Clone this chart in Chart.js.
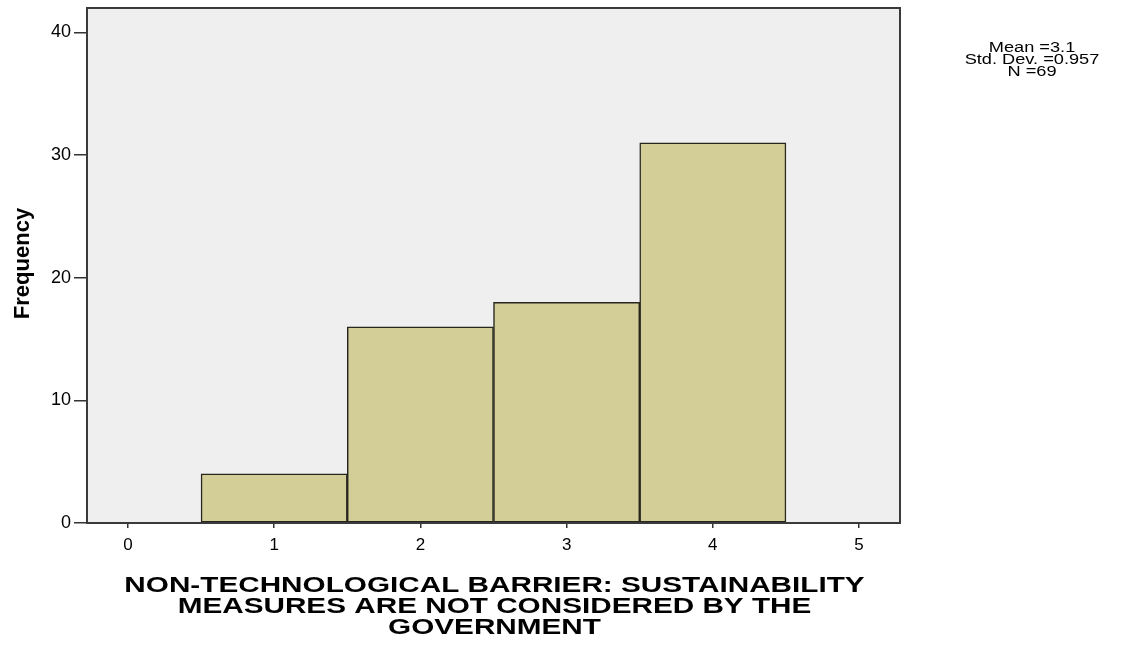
<!DOCTYPE html>
<html>
<head>
<meta charset="utf-8">
<script src="https://cdn.jsdelivr.net/npm/chart.js@4/dist/chart.umd.min.js"></script>
<style>
  html, body { margin: 0; padding: 0; background: #ffffff; }
  #wrap { width: 1130px; height: 647px; }
</style>
</head>
<body>
<div id="wrap"><canvas id="hist" width="1130" height="647"></canvas></div>
<script>
// Histogram bins (bin centres) and their counts
const binCentres = [1, 2, 3, 4];
const frequencies = [4, 16, 18, 31];
const xTickValues = [0, 1, 2, 3, 4, 5];
const yTickValues = [0, 10, 20, 30, 40];
const xTitleLines = [
  'NON-TECHNOLOGICAL BARRIER: SUSTAINABILITY',
  'MEASURES ARE NOT CONSIDERED BY THE',
  'GOVERNMENT'
];
const yTitle = 'Frequency';
const statsLines = ['Mean =3.1', 'Std. Dev. =0.957', 'N =69'];

const FONT = '"Liberation Sans", Arial, sans-serif';

// Grey plot background plus a dark frame around the plotting area
const frame = {
  id: 'frame',
  beforeDatasetsDraw(chart) {
    const { ctx, chartArea: a } = chart;
    ctx.save();
    ctx.fillStyle = '#efefef';
    ctx.fillRect(a.left, a.top, a.right - a.left, a.bottom - a.top);
    ctx.restore();
  },
  afterDatasetsDraw(chart) {
    const { ctx, chartArea: a } = chart;
    ctx.save();
    ctx.strokeStyle = '#3a3a3a';
    ctx.lineWidth = 2;
    ctx.strokeRect(a.left, a.top, a.right - a.left, a.bottom - a.top);
    ctx.restore();
  }
};

// Draw a line of text widened horizontally around its centre
function wideText(ctx, text, x, y, sx) {
  ctx.save();
  ctx.translate(x, y);
  ctx.scale(sx, 1);
  ctx.fillText(text, 0, 0);
  ctx.restore();
}

// Axis titles and the summary statistics block
const annotations = {
  id: 'annotations',
  afterDraw(chart) {
    const { ctx, chartArea: a } = chart;
    ctx.save();
    ctx.fillStyle = '#000000';
    ctx.textAlign = 'center';
    ctx.textBaseline = 'alphabetic';

    ctx.font = 'bold 22px ' + FONT;
    const cx = (a.left + a.right) / 2 + 1;
    xTitleLines.forEach((t, i) => wideText(ctx, t, cx, 592 + i * 21, 1.35));

    ctx.save();
    ctx.translate(29, (a.top + a.bottom) / 2 - 2);
    ctx.rotate(-Math.PI / 2);
    ctx.font = 'bold 22px ' + FONT;
    ctx.fillText(yTitle, 0, 0);
    ctx.restore();

    ctx.font = '14px ' + FONT;
    statsLines.forEach((t, i) => wideText(ctx, t, 1032, 52 + i * 12, 1.3));
    ctx.restore();
  }
};

new Chart(document.getElementById('hist'), {
  type: 'bar',
  data: {
    datasets: [{
      data: binCentres.map((x, i) => ({ x: x, y: frequencies[i] })),
      backgroundColor: '#d3ce98',
      borderColor: '#26261e',
      borderWidth: 1.5,
      borderSkipped: false,
      barPercentage: 1,
      categoryPercentage: 1
    }]
  },
  options: {
    responsive: false,
    animation: false,
    events: [],
    layout: { padding: { left: 0, right: 230, top: 8, bottom: 0 } },
    plugins: { legend: { display: false }, tooltip: { enabled: false } },
    scales: {
      x: {
        type: 'linear',
        offset: false,
        min: -0.28,
        max: 5.28,
        afterFit(s) { s.height = 124; s.paddingLeft = 0; s.paddingRight = 0; },
        afterBuildTicks(s) { s.ticks = xTickValues.map(v => ({ value: v })); },
        grid: { display: true, offset: false, drawOnChartArea: false, drawTicks: true, tickLength: 5, color: '#333333', lineWidth: 1.5 },
        border: { display: false },
        ticks: { color: '#000000', padding: 7, maxRotation: 0, font: { family: FONT, size: 17 } }
      },
      y: {
        type: 'linear',
        min: 0,
        max: 42,
        afterFit(s) { s.width = 87; s.paddingTop = 0; s.paddingBottom = 0; },
        afterBuildTicks(s) { s.ticks = yTickValues.map(v => ({ value: v })); },
        grid: { display: true, drawOnChartArea: false, drawTicks: true, tickLength: 13, color: '#333333', lineWidth: 1.5 },
        border: { display: false },
        ticks: { color: '#000000', padding: 3, font: { family: FONT, size: 18 } }
      }
    }
  },
  plugins: [frame, annotations]
});
</script>
</body>
</html>
